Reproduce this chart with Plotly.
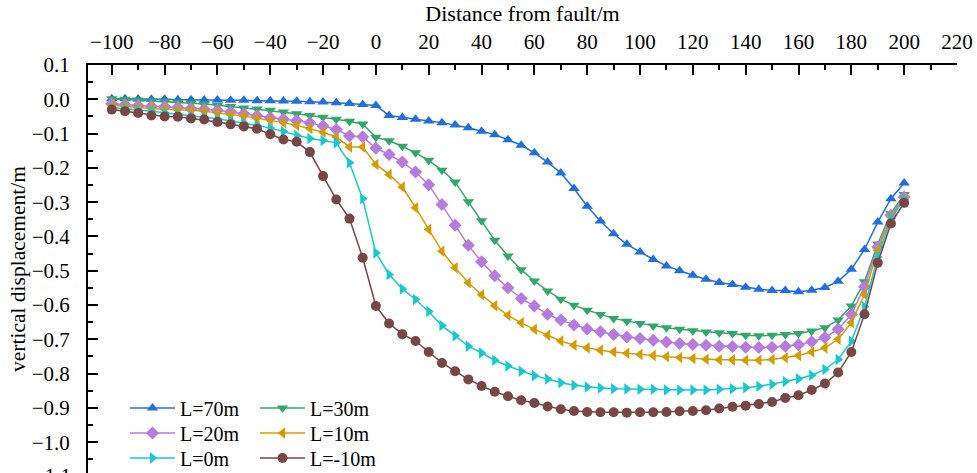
import plotly.graph_objects as go

distance = list(range(-100, 201, 5))

L70 = [0.002, 0.002, 0.001, 0.000, 0.000, -0.001, -0.001, -0.002, -0.002, -0.003,
       -0.003, -0.004, -0.004, -0.005, -0.006, -0.007, -0.008, -0.010, -0.012, -0.015,
       -0.018, -0.047, -0.053, -0.058, -0.063, -0.068, -0.075, -0.083, -0.093, -0.103,
       -0.118, -0.134, -0.156, -0.183, -0.215, -0.260, -0.312, -0.355, -0.392, -0.423,
       -0.445, -0.467, -0.486, -0.500, -0.513, -0.525, -0.534, -0.540, -0.548, -0.554,
       -0.558, -0.558, -0.561, -0.557, -0.549, -0.531, -0.496, -0.438, -0.358, -0.290,
       -0.244]
L30 = [0.002, 0.000, -0.002, -0.004, -0.006, -0.008, -0.011, -0.014, -0.017, -0.021,
       -0.025, -0.028, -0.032, -0.037, -0.042, -0.047, -0.052, -0.058, -0.064, -0.072,
       -0.111, -0.121, -0.137, -0.156, -0.178, -0.207, -0.241, -0.299, -0.354, -0.411,
       -0.457, -0.497, -0.530, -0.559, -0.583, -0.601, -0.615, -0.628, -0.639, -0.647,
       -0.654, -0.661, -0.666, -0.671, -0.675, -0.679, -0.681, -0.683, -0.688, -0.690,
       -0.688, -0.686, -0.683, -0.676, -0.666, -0.644, -0.603, -0.532, -0.422, -0.333,
       -0.278]
L20 = [-0.013, -0.016, -0.019, -0.020, -0.022, -0.024, -0.027, -0.029, -0.032, -0.037,
       -0.042, -0.048, -0.054, -0.058, -0.062, -0.068, -0.078, -0.088, -0.107, -0.109,
       -0.143, -0.161, -0.183, -0.212, -0.249, -0.307, -0.367, -0.426, -0.474, -0.515,
       -0.550, -0.581, -0.603, -0.627, -0.644, -0.658, -0.670, -0.678, -0.686, -0.693,
       -0.698, -0.703, -0.708, -0.712, -0.715, -0.717, -0.720, -0.721, -0.723, -0.724,
       -0.723, -0.720, -0.716, -0.707, -0.695, -0.671, -0.628, -0.547, -0.431, -0.338,
       -0.285]
L10 = [-0.017, -0.021, -0.025, -0.027, -0.029, -0.030, -0.032, -0.035, -0.039, -0.044,
       -0.049, -0.055, -0.061, -0.068, -0.076, -0.085, -0.096, -0.110, -0.139, -0.139,
       -0.190, -0.219, -0.256, -0.316, -0.380, -0.443, -0.491, -0.535, -0.570, -0.602,
       -0.630, -0.652, -0.671, -0.688, -0.705, -0.717, -0.725, -0.732, -0.737, -0.741,
       -0.744, -0.747, -0.751, -0.753, -0.756, -0.758, -0.760, -0.760, -0.761, -0.761,
       -0.759, -0.754, -0.747, -0.737, -0.725, -0.700, -0.652, -0.569, -0.440, -0.343,
       -0.290]
L0 = [-0.024, -0.027, -0.031, -0.035, -0.039, -0.043, -0.047, -0.052, -0.057, -0.063,
      -0.069, -0.076, -0.084, -0.094, -0.105, -0.114, -0.120, -0.127, -0.185, -0.290,
      -0.448, -0.511, -0.553, -0.584, -0.619, -0.660, -0.690, -0.720, -0.740, -0.761,
      -0.778, -0.793, -0.806, -0.816, -0.827, -0.834, -0.839, -0.842, -0.844, -0.845,
      -0.846, -0.846, -0.848, -0.848, -0.848, -0.848, -0.846, -0.844, -0.841, -0.837,
      -0.831, -0.823, -0.815, -0.805, -0.788, -0.759, -0.706, -0.605, -0.460, -0.348,
      -0.292]
Lm10 = [-0.030, -0.035, -0.040, -0.047, -0.050, -0.051, -0.056, -0.059, -0.066, -0.073,
        -0.079, -0.086, -0.102, -0.117, -0.124, -0.154, -0.224, -0.292, -0.348, -0.462,
        -0.603, -0.654, -0.685, -0.705, -0.737, -0.769, -0.793, -0.817, -0.836, -0.853,
        -0.866, -0.878, -0.886, -0.896, -0.904, -0.909, -0.912, -0.913, -0.913, -0.914,
        -0.913, -0.913, -0.912, -0.910, -0.909, -0.907, -0.902, -0.897, -0.894, -0.889,
        -0.883, -0.871, -0.863, -0.848, -0.829, -0.797, -0.737, -0.627, -0.477, -0.362,
        -0.302]

names = ["L=70m", "L=30m", "L=20m", "L=10m", "L=0m", "L=-10m"]
values = [L70, L30, L20, L10, L0, Lm10]
colors = ["#1f6fe0", "#2fa86a", "#b77be0", "#d69b00", "#17c9cf", "#7a4545"]
symbols = ["triangle-up", "triangle-down", "diamond", "triangle-left", "triangle-right", "circle"]

FONT = "Liberation Serif, Times New Roman, serif"
W, H = 977, 473
ML, MR, MT, MB = 88, 20, 65, 0
PW, PH = W - ML - MR, H - MT - MB

fig = go.Figure()
legend_ids = ["legend", "legend2", "legend3", "legend4", "legend5", "legend6"]
for i, (name, vals, color, sym) in enumerate(zip(names, values, colors, symbols)):
    fig.add_trace(go.Scatter(
        x=distance, y=vals, name=name, mode="lines+markers",
        line=dict(color=color, width=1.5),
        marker=dict(symbol=sym, size=10, color=color),
        legend=legend_ids[i], showlegend=True,
    ))

# legend grid: 2 columns x 3 rows (pixel positions of line start / row centre)
col_px = [125, 255]
row_px = [408, 433, 458]
legend_layout = {}
for i, lid in enumerate(legend_ids):
    c, r = i % 2, i // 2
    legend_layout[lid] = dict(
        x=(col_px[c] - ML) / PW, y=(H - row_px[r]) / PH,
        xanchor="left", yanchor="middle", visible=True,
        bgcolor="rgba(0,0,0,0)", font=dict(size=20), itemwidth=45,
    )

fig.update_layout(
    width=W, height=H, showlegend=True,
    margin=dict(l=ML, r=MR, t=MT, b=MB, autoexpand=False),
    paper_bgcolor="white", plot_bgcolor="white",
    font=dict(family=FONT, size=21, color="black"),
    xaxis=dict(
        side="top", range=[-109, 220.01], tick0=-100, dtick=20,
        ticks="inside", ticklen=10, tickwidth=2, tickcolor="black",
        showline=True, linewidth=2, linecolor="black",
        showgrid=False, zeroline=False, ticklabelstandoff=6,
        minor=dict(dtick=10, tick0=-100, ticks="inside", ticklen=5, tickwidth=2, tickcolor="black"),
        title=dict(text="Distance from fault/m", font=dict(size=22), standoff=2),
        tickfont=dict(size=21),
    ),
    yaxis=dict(
        range=[-1.09, 0.1001], tick0=0, dtick=0.1, tickformat=".1f",
        ticks="inside", ticklen=10, tickwidth=2, tickcolor="black",
        showline=True, linewidth=2, linecolor="black",
        showgrid=False, zeroline=False, ticklabelstandoff=12,
        minor=dict(dtick=0.05, tick0=0, ticks="inside", ticklen=5, tickwidth=2, tickcolor="black"),
        title=dict(text="vertical displacement/m", font=dict(size=21.5), standoff=0),
        tickfont=dict(size=21),
    ),
    annotations=[dict(text="\u22121.1", xref="paper", yref="paper", x=-15 / PW, y=-3 / PH,
                      xanchor="right", yanchor="middle", showarrow=False,
                      font=dict(size=21))],
    **legend_layout,
)

fig.write_html("out.html")
